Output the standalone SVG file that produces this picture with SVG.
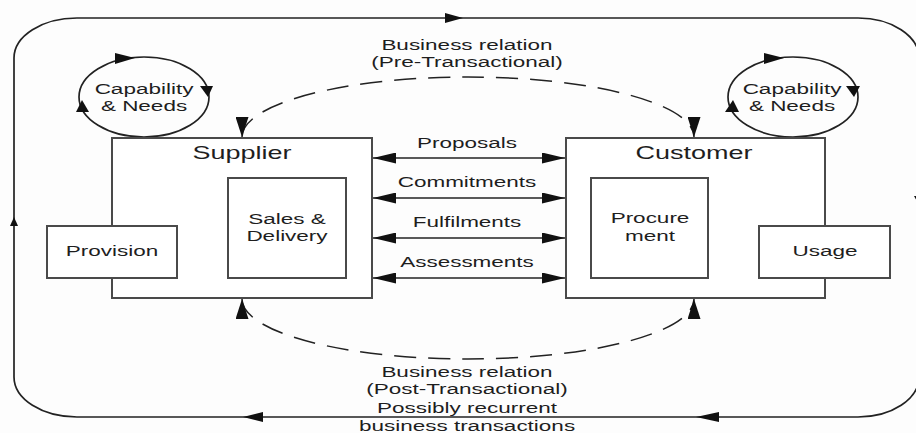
<svg xmlns="http://www.w3.org/2000/svg" width="916" height="433" viewBox="0 0 916 433">
<style>
.bg{fill:#fdfdfd}
.box{fill:#fff;stroke:#4a4a4a;stroke-width:2}
.ln{fill:none;stroke:#222;stroke-width:1.7}
.dash{fill:none;stroke:#222;stroke-width:1.5;stroke-dasharray:22 12}
.ah{fill:#111;stroke:none}
text{font-family:"Liberation Sans",Arial,sans-serif;fill:#1e1e1e;text-anchor:middle}
.t15{font-size:15px}
.t18{font-size:18px}
</style>
<defs>
<marker id="dbl" markerUnits="userSpaceOnUse" markerWidth="23" markerHeight="11" refX="23" refY="5.5" orient="auto-start-reverse"><path d="M0,0 L23,5.5 L0,11 z" fill="#111"/></marker>
<marker id="sm" markerUnits="userSpaceOnUse" markerWidth="25" markerHeight="9" refX="25" refY="4.5" orient="auto"><path d="M0,0 L25,4.5 L0,9 z" fill="#111"/></marker>
<marker id="dv" markerUnits="userSpaceOnUse" markerWidth="20" markerHeight="13" refX="20" refY="6.5" orient="auto-start-reverse"><path d="M0,0 L20,6.5 L0,13 z" fill="#111"/></marker>
</defs>
<rect class="bg" x="0" y="0" width="916" height="433"/>

<g id="connectors">
<path class="ln" d="M77 18 L858 18 A61 40 0 0 1 919 58 L919 377 A61 40 0 0 1 858 417 L77 417 A63 40 0 0 1 14 377 L14 58 A63 40 0 0 1 77 18 Z"/>
<polygon class="ah" points="445,13 463,18 445,23"/>
<polygon class="ah" points="263,412 243,417 263,422"/>
<polygon class="ah" points="719,412 696,417 719,422"/>
<polygon class="ah" points="10,226 14,217 18,226"/>
<polygon class="ah" points="914,196 919,205 924,196"/>
<path class="dash" d="M242 137 A226 60 0 0 1 694 137" marker-start="url(#dv)" marker-end="url(#dv)"/>
<path class="dash" d="M242 299 A226 60 0 0 0 694 299" marker-start="url(#dv)" marker-end="url(#dv)"/>
<line class="ln" x1="373" y1="158" x2="565" y2="158" marker-start="url(#dbl)" marker-end="url(#dbl)"/>
<line class="ln" x1="373" y1="198" x2="565" y2="198" marker-start="url(#dbl)" marker-end="url(#dbl)"/>
<line class="ln" x1="373" y1="238" x2="565" y2="238" marker-start="url(#dbl)" marker-end="url(#dbl)"/>
<line class="ln" x1="373" y1="278" x2="565" y2="278" marker-start="url(#dbl)" marker-end="url(#dbl)"/>
<line class="ln" x1="177" y1="252" x2="227" y2="252" marker-end="url(#sm)"/>
<line class="ln" x1="708" y1="252" x2="758" y2="252" marker-end="url(#sm)"/>
<text class="t15" transform="translate(467,148) scale(1.5,1)">Proposals</text>
<text class="t15" transform="translate(467,187) scale(1.5,1)">Commitments</text>
<text class="t15" transform="translate(467,227) scale(1.5,1)">Fulfilments</text>
<text class="t15" transform="translate(467,267) scale(1.5,1)">Assessments</text>
<text class="t15" transform="translate(467,50) scale(1.5,1)">Business relation</text>
<text class="t15" transform="translate(467,67) scale(1.5,1)">(Pre-Transactional)</text>
<text class="t15" transform="translate(467,377) scale(1.5,1)">Business relation</text>
<text class="t15" transform="translate(467,394) scale(1.5,1)">(Post-Transactional)</text>
<text class="t15" transform="translate(467,413) scale(1.5,1)">Possibly recurrent</text>
<text class="t15" transform="translate(467,431) scale(1.5,1)">business transactions</text>
</g>

<g id="capLeft">
<ellipse class="ln" cx="144" cy="97" rx="65" ry="40"/>
<polygon class="ah" points="115,53 135,58 115,64"/>
<polygon class="ah" points="200,86 213,86 208,97"/>
<polygon class="ah" points="76,112 89,112 82,100"/>
<text class="t15" transform="translate(144,94) scale(1.5,1)">Capability</text>
<text class="t15" transform="translate(144,111) scale(1.5,1)">&amp; Needs</text>
</g>

<g id="capRight">
<ellipse class="ln" cx="793" cy="97" rx="65" ry="40"/>
<polygon class="ah" points="764,53 784,58 764,64"/>
<polygon class="ah" points="846,86 860,86 854,97"/>
<polygon class="ah" points="725,112 739,112 733,100"/>
<text class="t15" transform="translate(792,94) scale(1.5,1)">Capability</text>
<text class="t15" transform="translate(792,111) scale(1.5,1)">&amp; Needs</text>
</g>

<g id="supplier">
<rect class="box" x="112" y="138" width="260" height="160"/>
<text class="t18" transform="translate(242,159) scale(1.5,1)">Supplier</text>
</g>

<g id="sales">
<rect class="box" x="228" y="178" width="118" height="100"/>
<text class="t15" transform="translate(287,224) scale(1.5,1)">Sales &amp;</text>
<text class="t15" transform="translate(287,241) scale(1.5,1)">Delivery</text>
</g>

<g id="provision">
<rect class="box" x="47" y="226" width="130" height="52"/>
<text class="t15" transform="translate(112,256) scale(1.5,1)">Provision</text>
</g>

<g id="customer">
<rect class="box" x="566" y="138" width="259" height="160"/>
<text class="t18" transform="translate(694,159) scale(1.5,1)">Customer</text>
</g>

<g id="procurement">
<rect class="box" x="591" y="178" width="117" height="100"/>
<text class="t15" transform="translate(650,223) scale(1.5,1)">Procure</text>
<text class="t15" transform="translate(650,241) scale(1.5,1)">ment</text>
</g>

<g id="usage">
<rect class="box" x="759" y="226" width="131" height="52"/>
<text class="t15" transform="translate(825,256) scale(1.5,1)">Usage</text>
</g>
</svg>
